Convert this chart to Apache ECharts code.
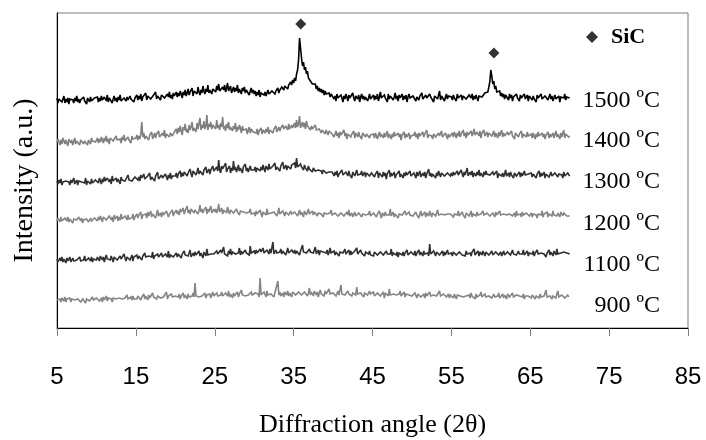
<!DOCTYPE html>
<html><head><meta charset="utf-8">
<script src="https://cdn.jsdelivr.net/npm/echarts@6/dist/echarts.min.js"></script>
<style>html,body{margin:0;padding:0;background:#fff}#c{width:706px;height:440px}</style>
</head><body><div id="c"></div>
<script>
// ---- data ----
const angleStart = 5;       // first 2θ sample
const angleStep = 0.125;    // 2θ sampling step
const seriesNames = ['1500 ºC', '1400 ºC', '1300 ºC', '1200 ºC', '1100 ºC', '900 ºC'];
const offsets = [228, 186, 146, 108, 68, 28];   // vertical offset of each pattern (a.u.)
const xTickLabels = [5, 15, 25, 35, 45, 55, 65, 75, 85];
const sicAngles = [35.9, 60.4];
const sicHeights = [304, 275];

const i1500 = [
 2,-3,1,-1,3,-2,0,4,-3,1,-2,2,-4,1,3,-1,0,-3,2,-1,4,-2,1,-3,0,2,-2,3,-1,1,-4,2,0,-2,3,-1,1,-3,2,0,
 0,3,-2,2,-1,4,0,-2,3,1,-1,5,-2,2,0,3,-3,1,4,-1,2,-2,3,0,5,-1,1,-3,2,4,-1,3,0,-2,4,1,-1,3,-2,2,
 2,5,0,4,1,6,-1,3,5,2,7,0,4,2,6,1,3,-1,5,3,8,1,4,2,6,0,5,3,7,2,4,1,6,3,8,2,5,1,7,4,
 5,8,3,7,4,9,6,2,8,5,10,4,7,11,5,8,6,12,4,9,7,11,6,13,8,5,10,7,14,9,6,11,8,15,7,10,12,6,11,9,
 12,8,14,10,16,9,11,7,13,10,15,8,12,17,9,11,14,7,10,13,8,12,9,15,7,11,10,6,12,9,13,7,10,8,11,5,9,12,7,10,
 6,9,4,8,5,10,3,7,6,9,5,8,4,7,10,6,8,5,9,7,11,6,9,8,12,7,10,9,13,11,10,14,12,16,11,15,13,18,15,20,
 17,22,19,26,30,40,62,52,42,34,38,30,33,26,29,22,24,19,21,16,18,14,16,11,14,9,12,8,11,7,10,5,9,6,8,4,7,3,6,4,
 5,1,4,-1,6,2,3,0,5,2,-2,4,1,6,3,-1,5,2,4,0,7,2,-1,4,3,1,5,-2,3,6,1,4,0,3,5,-1,2,6,1,3,
 2,5,0,4,1,6,-1,3,8,2,4,0,5,2,3,-2,6,1,4,2,5,0,3,7,1,4,-1,5,2,3,6,0,4,1,5,-2,3,6,2,4,
 1,4,2,6,-1,3,5,0,4,2,7,1,3,-1,5,2,4,0,6,3,1,5,-2,4,2,6,1,3,9,0,4,2,5,-1,3,6,1,4,2,5,
 3,0,5,2,4,-1,6,2,3,1,5,0,4,2,6,1,3,-1,5,3,2,6,0,4,1,5,3,-1,4,2,6,3,5,2,7,5,9,8,13,18,
 30,24,16,19,11,14,8,10,6,9,4,7,3,6,1,5,3,4,0,6,2,5,-1,3,4,1,6,2,3,-1,5,2,4,0,6,1,3,5,-1,4,
 2,5,0,4,1,3,-2,5,2,4,0,6,1,3,-1,4,2,5,0,3,6,1,4,-1,2,5,1,3,0,4,-2,3,5,1,2,6,0,3,1,4,
 2];
const i1400 = [
 -1,3,0,-3,2,-2,4,1,-2,2,0,-4,3,1,-1,2,-3,0,4,-2,1,3,-1,-3,2,0,4,-2,1,-1,3,-3,2,0,-2,4,1,-1,2,0,
 1,4,-1,3,0,5,2,-1,4,1,6,0,3,-2,4,2,5,1,3,-1,6,2,0,4,3,-1,5,2,7,1,3,0,5,2,4,-1,6,3,1,4,
 4,7,2,6,3,8,20,5,9,3,6,4,8,2,7,5,10,3,6,9,4,8,6,11,5,7,3,9,6,12,4,8,7,10,5,9,11,6,8,10,
 9,13,8,14,10,16,11,7,15,12,18,10,13,9,17,12,15,20,11,14,16,10,19,13,15,24,12,17,14,21,13,16,27,12,18,15,20,13,17,15,
 18,13,22,14,17,12,19,15,25,13,16,11,18,14,20,12,15,17,11,16,13,19,10,15,12,17,14,9,16,12,14,10,13,8,12,15,9,13,11,10,
 8,12,9,13,7,11,10,14,8,12,11,9,13,10,15,8,12,11,14,9,13,11,16,10,12,15,11,14,12,17,13,11,16,14,12,18,13,15,17,14,
 16,19,14,22,15,18,26,14,17,20,15,19,13,21,16,14,18,12,16,13,15,11,17,12,14,10,13,15,9,12,11,14,8,12,10,7,11,9,12,8,
 9,5,8,11,6,9,4,10,7,5,8,12,6,9,3,8,7,10,5,8,6,11,4,9,7,5,10,6,8,3,9,7,11,5,8,6,10,4,7,9,
 5,8,4,9,6,3,7,10,5,8,6,4,9,5,7,11,4,8,6,3,8,5,10,6,7,4,9,5,8,2,7,6,10,4,8,5,7,9,3,6,
 8,4,7,10,5,8,3,9,6,7,4,10,5,8,6,12,4,7,9,5,6,3,8,10,5,7,4,9,6,8,11,5,7,4,9,6,3,8,5,7,
 6,9,5,10,7,4,9,6,11,5,8,7,12,6,9,4,10,7,8,5,11,6,9,13,7,5,10,8,6,11,4,9,7,12,6,8,10,5,9,7,
 10,6,8,11,5,9,7,4,10,6,8,12,5,9,6,8,4,10,7,9,5,11,6,8,3,9,7,10,5,8,6,11,4,8,7,9,5,10,6,8,
 5,8,4,9,6,3,8,5,10,6,4,7,9,5,8,3,7,6,10,4,8,5,7,9,4,6,11,5,8,6,3,9,5,7,12,4,8,6,9,5,
 6];
const i1300 = [
 1,-2,2,-1,3,-3,0,2,-2,1,-1,3,0,-3,2,-1,1,4,-2,0,2,-3,1,-1,3,0,-2,2,-1,4,-3,1,0,2,-2,3,-1,1,-3,2,
 0,3,-1,4,1,-2,3,0,5,1,-1,4,2,0,3,-2,6,1,2,-1,4,0,3,1,-2,5,2,0,4,1,3,-1,7,2,0,4,1,3,-1,5,
 3,6,2,5,1,7,4,2,8,3,5,1,6,4,9,2,5,3,7,1,6,4,10,3,5,2,7,4,6,3,8,5,2,7,4,9,3,6,5,8,
 6,9,4,8,7,11,5,9,6,10,8,12,6,9,7,13,8,5,11,9,12,7,10,14,8,11,9,13,7,12,10,15,9,11,13,8,12,10,16,11,
 13,10,15,11,22,12,9,16,13,11,14,19,10,13,12,16,9,14,11,21,12,15,10,13,17,11,14,12,9,15,13,18,11,14,10,13,16,12,14,11,
 12,15,10,14,13,16,11,15,12,17,13,10,16,14,12,18,13,15,11,16,14,19,12,15,13,17,11,16,14,20,13,15,17,12,16,14,18,13,17,15,
 16,19,14,24,15,17,13,18,15,16,12,17,14,15,11,16,13,12,15,10,14,12,11,13,9,12,14,10,11,8,12,10,13,9,11,7,10,12,8,10,
 9,6,10,7,11,5,8,9,6,12,7,9,5,10,8,6,11,7,9,4,10,8,6,9,12,7,5,9,8,11,6,8,10,5,9,7,11,6,8,9,
 7,10,5,8,6,11,4,9,7,8,5,10,6,9,3,8,7,12,5,9,6,8,10,4,7,9,6,11,5,8,7,4,9,6,10,7,5,8,11,6,
 8,5,9,7,4,10,6,8,11,5,7,9,6,10,4,8,7,13,6,9,5,8,10,7,4,9,6,11,8,5,9,7,10,6,8,4,9,7,11,6,
 9,6,10,7,8,5,11,7,9,6,12,8,5,10,7,9,14,6,8,10,7,11,5,9,8,6,10,7,12,6,9,8,5,10,7,11,8,6,9,7,
 8,5,10,7,9,6,11,4,8,7,10,6,9,5,8,12,6,7,9,5,10,7,8,4,9,11,6,8,7,10,5,9,6,8,11,7,5,9,8,6,
 7,9,5,8,6,10,4,8,7,11,5,9,6,7,10,4,8,6,9,5,7,10,6,8,4,9,7,11,5,8,6,9,7,4,10,6,8,5,9,7,
 6];
const i1200 = [
 -1,2,0,-2,3,-1,1,-3,2,0,-1,3,-2,1,0,2,-3,1,-1,2,0,-2,3,1,-1,2,-3,0,2,-1,1,3,-2,0,2,-1,-3,1,2,0,
 2,-1,3,0,4,1,-2,3,1,5,0,2,-1,4,2,0,3,-2,5,1,2,4,-1,3,0,6,1,2,-1,4,3,0,5,1,-1,3,2,6,0,3,
 3,6,2,5,4,8,1,5,7,3,6,2,8,4,5,9,3,6,4,7,2,6,10,4,5,7,3,8,5,6,4,9,7,3,6,8,5,10,4,7,
 7,10,6,9,5,11,8,7,12,6,9,8,14,7,10,6,11,9,13,7,10,8,12,6,9,15,8,11,7,10,9,13,6,11,8,10,14,7,9,11,
 8,11,7,10,16,8,9,12,6,10,8,11,7,13,9,6,10,8,12,7,9,6,11,8,10,5,9,7,11,8,6,10,7,9,5,8,11,6,8,7,
 7,4,9,6,8,5,10,6,3,8,7,9,5,11,6,8,4,7,9,5,8,6,10,4,7,12,6,8,5,9,7,4,8,6,10,5,7,9,6,8,
 5,8,6,9,4,7,10,5,8,6,3,9,7,5,8,11,6,4,7,9,5,8,6,10,4,7,5,9,6,8,3,7,9,5,6,8,4,7,10,5,
 6,3,7,5,8,4,6,2,7,5,9,4,6,3,8,5,10,4,6,7,3,5,8,4,6,2,7,5,9,3,6,4,8,5,7,3,6,9,4,5,
 4,7,5,8,3,6,4,9,5,2,7,6,4,8,5,3,7,5,11,4,6,8,3,6,5,7,2,6,8,4,5,7,3,9,5,6,4,8,5,6,
 7,4,6,3,8,5,7,2,6,9,4,6,5,8,3,7,5,4,9,6,3,7,5,8,4,6,10,5,3,7,6,4,8,5,7,3,6,8,4,6,
 5,8,3,6,4,7,5,9,4,6,3,8,5,6,2,7,5,8,4,6,9,3,6,5,7,4,8,5,3,7,6,4,9,5,6,3,7,5,8,4,
 6,4,7,5,3,8,5,6,4,9,5,3,7,6,4,8,5,7,3,6,5,8,4,6,7,3,9,5,4,7,6,3,8,5,6,4,7,5,9,4,
 5,7,3,6,4,8,5,2,6,4,7,5,9,3,6,5,4,8,3,6,5,7,4,9,5,3,6,4,7,5,3,8,6,4,7,5,9,4,6,5,
 4];
const i1100 = [
 1,-2,0,2,-1,3,-2,1,0,-3,2,-1,1,3,-2,0,2,-1,-3,1,0,2,-2,3,-1,1,-2,0,4,-1,1,-3,2,0,-1,3,-2,1,0,2,
 0,3,1,-1,4,2,0,3,-2,2,5,1,-1,3,0,4,2,-2,3,1,5,0,2,-1,4,1,3,0,6,2,-1,3,1,4,0,2,5,-1,3,2,
 2,5,1,4,3,6,0,4,2,7,3,1,5,4,2,6,3,8,1,4,5,2,6,3,4,1,7,3,5,2,6,4,3,9,2,5,4,6,3,5,
 4,7,3,6,5,8,2,6,4,9,5,3,7,4,6,10,3,5,7,4,8,5,3,6,9,4,7,5,2,8,6,4,11,5,7,3,6,8,4,6,
 7,5,9,6,8,4,10,7,5,13,6,8,7,4,9,6,11,5,8,7,10,6,4,8,7,12,5,9,6,8,4,10,7,6,9,5,14,7,6,8,
 9,6,10,7,8,5,11,8,6,12,7,9,5,10,8,6,11,7,9,18,6,8,10,7,5,9,8,11,6,9,7,10,5,8,12,7,9,6,10,8,
 7,10,6,9,8,11,5,9,7,15,8,6,10,7,9,5,11,8,6,10,7,9,13,6,8,10,5,9,7,11,8,6,9,7,10,5,8,12,7,9,
 6,9,5,8,7,10,4,8,6,9,7,5,11,6,8,7,10,5,9,6,8,4,9,7,12,6,8,5,10,7,6,9,4,8,7,10,6,9,5,7,
 7,4,8,6,9,5,7,3,8,6,10,5,7,4,9,6,8,5,6,11,4,7,6,9,5,8,3,7,6,9,5,8,4,7,6,10,5,7,4,8,
 6,8,5,9,4,7,6,10,5,8,7,4,9,6,8,5,7,4,16,6,8,5,9,7,4,8,6,10,5,7,6,9,4,8,5,7,10,6,8,5,
 7,4,8,6,9,5,7,3,8,6,10,5,7,6,4,9,6,8,5,7,4,8,6,11,5,7,6,9,4,8,6,5,9,7,4,8,6,10,5,7,
 6,9,5,7,4,8,6,10,5,7,8,4,6,9,5,7,3,8,6,9,5,7,10,6,4,8,5,7,9,6,4,8,6,10,5,7,6,9,4,7,
 5,8,6,9,4,7,5,10,6,8,4,7,9,5,6,8,3,7,6,10,5,8,6,4,9,7,5,11,6,8,4,7,9,5,8,6,10,7,5,8,
 6];
const i900 = [
 0,2,-1,1,-2,2,0,-1,3,-2,1,0,-1,2,-2,1,3,-1,0,-2,2,1,-1,3,-2,0,1,-1,2,-3,1,0,2,-1,1,-2,3,0,-1,1,
 2,0,3,-1,1,2,-2,3,0,1,4,-1,2,0,3,1,-2,2,4,0,1,3,-1,2,0,4,1,-1,3,2,0,5,1,-1,2,3,0,4,1,2,
 3,1,4,2,5,0,3,2,6,1,4,3,0,5,2,4,1,7,3,2,5,1,4,3,6,2,0,4,3,5,2,8,1,4,3,2,6,3,4,2,
 4,2,5,3,6,1,4,3,7,2,5,4,1,6,3,5,2,4,7,3,17,4,2,6,3,5,1,4,6,3,7,2,5,4,3,6,2,5,8,4,
 5,3,7,4,6,2,5,8,4,6,3,7,5,4,9,3,6,5,2,7,4,6,5,8,3,6,4,10,5,3,7,4,6,2,5,7,4,8,5,6,
 4,7,5,8,6,3,22,5,7,4,8,6,3,9,5,7,4,6,8,5,3,7,6,9,19,5,8,4,6,7,3,8,6,5,9,4,7,6,3,8,
 6,9,5,7,4,8,6,10,5,7,3,8,6,9,4,7,12,5,8,6,4,9,7,5,8,3,7,10,6,5,8,4,9,6,7,5,11,6,8,5,
 7,5,8,4,6,9,5,7,15,6,4,8,5,7,3,9,6,5,8,4,7,6,9,5,13,6,4,8,7,5,9,3,7,6,8,5,4,9,6,7,
 5,8,4,6,3,7,5,9,4,6,5,8,2,7,5,6,4,11,5,7,3,6,8,4,5,7,3,6,9,4,6,5,8,3,6,4,7,5,3,6,
 4,6,3,7,5,2,6,4,8,3,5,4,6,2,7,4,5,3,8,4,6,2,5,7,3,4,6,3,9,4,5,2,6,4,7,3,5,6,2,5,
 3,5,2,6,4,1,5,3,7,4,2,6,3,5,1,4,6,3,5,2,7,4,3,5,1,6,3,4,2,5,8,3,4,2,6,3,5,1,4,3,
 5,2,4,6,3,1,5,4,7,2,4,3,6,2,5,3,1,6,4,3,5,2,7,3,4,1,5,3,6,4,2,5,3,6,1,4,5,2,4,3,
 4,2,5,3,6,1,4,3,5,2,6,3,1,5,4,2,10,3,5,2,4,6,1,4,3,5,2,6,9,3,4,2,5,3,7,2,4,3,5,3,
 4];

// ---- chart ----
const patterns = [i1500, i1400, i1300, i1200, i1100, i900];
const colors = ['#000000', '#808080', '#303030', '#858585', '#303030', '#858585'];
const labelY = [101, 141, 182, 224, 265, 306];

const lineSeries = patterns.map((arr, k) => ({
  name: seriesNames[k],
  type: 'line',
  showSymbol: false,
  symbol: 'none',
  animation: false,
  lineStyle: { width: 1.6, color: colors[k], join: 'miter', miterLimit: 2 },
  itemStyle: { color: colors[k] },
  data: arr.map((v, i) => [angleStart + i * angleStep, offsets[k] + v])
}));

const chart = echarts.init(document.getElementById('c'), null, { renderer: 'canvas' });
chart.setOption({
  backgroundColor: '#ffffff',
  animation: false,
  grid: { left: 57, right: 18, top: 13, bottom: 112, show: true, borderColor: '#7a7a7a', borderWidth: 1, containLabel: false, outerBoundsMode: 'none' },
  legend: {
    data: ['SiC'], left: 581, top: 21, icon: 'diamond', itemWidth: 12, itemHeight: 12,
    textStyle: { fontFamily: 'Liberation Serif', fontWeight: 'bold', fontSize: 22, color: '#000', padding: [0, 0, 0, 8] },
    selectedMode: false
  },
  xAxis: {
    type: 'value', min: 5, max: 85,
    name: 'Diffraction angle (2θ)', nameLocation: 'middle', nameGap: 84,
    nameTextStyle: { fontFamily: 'Liberation Serif', fontSize: 26, color: '#000' },
    axisLine: { show: true, lineStyle: { color: '#000', width: 1 } },
    axisTick: { show: true, inside: false, length: 8, customValues: xTickLabels, lineStyle: { color: '#808080' } },
    axisLabel: { show: true, customValues: xTickLabels, margin: 37, fontFamily: 'Liberation Sans', fontSize: 24, color: '#000' },
    splitLine: { show: false }
  },
  yAxis: {
    type: 'value', min: 0, max: 315,
    name: 'Intensity (a.u.)', nameLocation: 'middle', nameGap: 18,
    nameTextStyle: { fontFamily: 'Liberation Serif', fontSize: 28, color: '#000', padding: [0, 20, 0, 0] },
    axisLine: { show: true, lineStyle: { color: '#000', width: 1 } },
    axisTick: { show: false }, axisLabel: { show: false }, splitLine: { show: false }
  },
  graphic: seriesNames.map((n, k) => ({
    type: 'text', x: 660, y: labelY[k],
    style: { text: n, align: 'right', verticalAlign: 'middle', font: '24px "Liberation Serif"', fill: '#000' }
  })),
  series: lineSeries.concat([{
    name: 'SiC', type: 'scatter', symbol: 'diamond', symbolSize: 11,
    itemStyle: { color: '#000' }, z: 5,
    data: sicAngles.map((a, i) => [a, sicHeights[i]])
  }])
});
</script>
</body></html>
